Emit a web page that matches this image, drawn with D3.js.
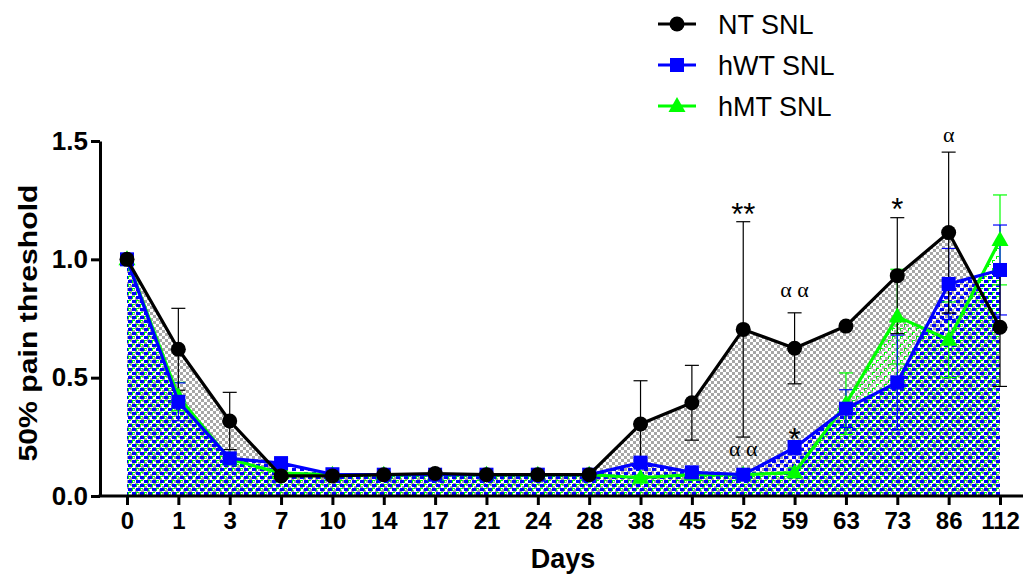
<!DOCTYPE html>
<html><head><meta charset="utf-8">
<script src="https://cdn.jsdelivr.net/npm/d3@7"></script>
<style>body{margin:0;background:#fff}</style>
</head><body>
<svg id="c" width="1030" height="575"></svg>
<script>
// ---- data ----
const days = ["0","1","3","7","10","14","17","21","24","28","38","45","52","59","63","73","86","112"];
const ntMean  = [1.0,0.62,0.317,0.085,0.085,0.09,0.095,0.09,0.09,0.09,0.304,0.394,0.704,0.624,0.718,0.931,1.113,0.713];
const ntSem   = [0,0.173,0.121,0,0,0,0,0,0,0,0.183,0.158,0.455,0.15,0,0.245,0.34,0.25];
const hwtMean = [1.0,0.398,0.159,0.139,0.092,0.09,0.09,0.09,0.09,0.09,0.141,0.10,0.09,0.204,0.369,0.48,0.896,0.955];
const hwtSem  = [0,0.08,0.02,0.02,0,0,0,0,0,0,0.02,0.01,0.01,0.03,0.08,0.2,0.15,0.19];
const hmtMean = [1.0,0.42,0.155,0.097,0.09,0.09,0.09,0.09,0.09,0.09,0.077,0.09,0.09,0.099,0.39,0.758,0.66,1.082];
const hmtSem  = [0,0.06,0.02,0.01,0,0,0,0,0,0,0.01,0.01,0.01,0.02,0.13,0.2,0.16,0.19];
const yTicks = [0,0.5,1.0,1.5];
const seriesNames = ["NT SNL","hWT SNL","hMT SNL"];
const annotations = [
  {day:"52", text:"**", v:1.217, serif:false},
  {day:"59", text:"α α", v:0.862, serif:true},
  {day:"52", text:"α α", v:0.191, serif:true},
  {day:"59", text:"*", v:0.266, serif:false},
  {day:"73", text:"*", v:1.238, serif:false},
  {day:"86", text:"α", v:1.517, serif:true}
];

// ---- chart ----
const svg = d3.select("#c");
const sans = "'Liberation Sans', Arial, sans-serif";
const serif = "'Liberation Serif', 'Times New Roman', serif";
const x = d3.scalePoint().domain(days).range([127,1000]).padding(0);
const y = d3.scaleLinear().domain([0,1.5]).range([496,141]);

const defs = svg.append("defs");
// gray checker
const pNT = defs.append("pattern").attr("id","pNT").attr("patternUnits","userSpaceOnUse").attr("width",6).attr("height",6);
pNT.append("rect").attr("width",6).attr("height",6).attr("fill","#fff");
pNT.append("rect").attr("x",0).attr("y",0).attr("width",3).attr("height",3).attr("fill","#a6a6a6");
pNT.append("rect").attr("x",3).attr("y",3).attr("width",3).attr("height",3).attr("fill","#a6a6a6");
// blue pattern
const pWT = defs.append("pattern").attr("id","pWT").attr("patternUnits","userSpaceOnUse").attr("width",8).attr("height",8);
pWT.append("rect").attr("x",0).attr("y",0).attr("width",4).attr("height",3).attr("fill","#0000ff");
pWT.append("rect").attr("x",4).attr("y",4).attr("width",4).attr("height",3).attr("fill","#0000ff");
// green pattern
const pMT = defs.append("pattern").attr("id","pMT").attr("patternUnits","userSpaceOnUse").attr("width",8).attr("height",8);
pMT.append("path").attr("d","M4,0h3v1h-2v2h-1z M0,4h3v1h-2v2h-1z").attr("fill","#00ff00");
pMT.append("rect").attr("x",5).attr("y",1).attr("width",1).attr("height",1).attr("fill","#fff");
pMT.append("rect").attr("x",1).attr("y",5).attr("width",1).attr("height",1).attr("fill","#fff");

const area = vals => d3.area().x((d,i)=>x(days[i])).y0(y(0)-1).y1(d=>y(d))(vals);
const line = vals => d3.line().x((d,i)=>x(days[i])).y(d=>y(d))(vals);

svg.append("path").attr("d",area(ntMean)).attr("fill","url(#pNT)");
svg.append("path").attr("d",area(hwtMean)).attr("fill","url(#pWT)");
svg.append("path").attr("d",area(hmtMean)).attr("fill","url(#pMT)");

// error bars
function errBars(mean, sem, color){
  const g = svg.append("g").attr("stroke",color).attr("stroke-width",1.2).attr("fill","none");
  mean.forEach((m,i)=>{
    if(!sem[i]) return;
    const cx = x(days[i]);
    g.append("line").attr("x1",cx).attr("x2",cx).attr("y1",y(m-sem[i])).attr("y2",y(m+sem[i]));
    g.append("line").attr("x1",cx-7).attr("x2",cx+7).attr("y1",y(m+sem[i])).attr("y2",y(m+sem[i]));
    g.append("line").attr("x1",cx-7).attr("x2",cx+7).attr("y1",y(m-sem[i])).attr("y2",y(m-sem[i]));
  });
}
errBars(hmtMean,hmtSem,"#00ff00");
errBars(hwtMean,hwtSem,"#0000ff");
errBars(ntMean,ntSem,"#000");

function marker(g, type, cx, cy, color){
  if(type==="circle") g.append("circle").attr("cx",cx).attr("cy",cy).attr("r",7.5).attr("fill",color);
  else if(type==="square") g.append("rect").attr("x",cx-7).attr("y",cy-7).attr("width",14).attr("height",14).attr("fill",color);
  else g.append("path").attr("d",`M${cx},${cy-9}L${cx+8.5},${cy+6}L${cx-8.5},${cy+6}Z`).attr("fill",color);
}
function series(mean, color, type){
  const g = svg.append("g");
  g.append("path").attr("d",line(mean)).attr("fill","none").attr("stroke",color).attr("stroke-width",3.2).attr("stroke-linejoin","round");
  mean.forEach((m,i)=>marker(g,type,x(days[i]),y(m),color));
}
series(hmtMean,"#00ff00","tri");
series(hwtMean,"#0000ff","square");
series(ntMean,"#000","circle");

// axes
const yAxis = svg.append("g").attr("transform","translate(100,0)")
  .call(d3.axisLeft(y).tickValues(yTicks).tickFormat(d3.format(".1f")).tickSize(9).tickSizeOuter(0).tickPadding(3));
yAxis.select(".domain").attr("stroke-width",3);
yAxis.selectAll(".tick line").attr("stroke-width",3);
yAxis.selectAll(".tick text").attr("font-family",sans).attr("font-size",26).attr("font-weight","bold").attr("fill","#000");

const xAxis = svg.append("g").attr("transform","translate(0,496)")
  .call(d3.axisBottom(x).tickSize(9).tickSizeOuter(0).tickPadding(7));
xAxis.select(".domain").remove();
xAxis.selectAll(".tick line").attr("stroke-width",3);
xAxis.selectAll(".tick text").attr("font-family",sans).attr("font-size",24).attr("font-weight","bold").attr("fill","#000");
svg.append("line").attr("x1",98.5).attr("x2",1023).attr("y1",496).attr("y2",496).attr("stroke","#000").attr("stroke-width",3);

// axis titles
svg.append("text").attr("transform","translate(37,323) rotate(-90)").attr("text-anchor","middle")
  .attr("font-family",sans).attr("font-size",26).attr("font-weight","bold")
  .attr("textLength",277).attr("lengthAdjust","spacingAndGlyphs").text("50% pain threshold");
svg.append("text").attr("x",563).attr("y",568).attr("text-anchor","middle")
  .attr("font-family",sans).attr("font-size",27).attr("font-weight","bold").text("Days");

// annotations
annotations.forEach(a=>{
  const cy = y(a.v);
  svg.append("text").attr("x",x(a.day)).attr("y", a.serif ? cy+5 : cy+17)
    .attr("text-anchor","middle").attr("font-family",a.serif?serif:sans)
    .attr("font-size",a.serif?22:31).text(a.text);
});

// legend
const legColors = ["#000","#0000ff","#00ff00"];
const legTypes = ["circle","square","tri"];
seriesNames.forEach((n,i)=>{
  const cy = 24 + i*41;
  const g = svg.append("g");
  g.append("line").attr("x1",658).attr("x2",696).attr("y1",cy).attr("y2",cy).attr("stroke",legColors[i]).attr("stroke-width",3.2);
  marker(g,legTypes[i],677,cy,legColors[i]);
  g.append("text").attr("x",718).attr("y",cy+10).attr("font-family",sans).attr("font-size",27).text(n);
});
</script>
</body></html>
